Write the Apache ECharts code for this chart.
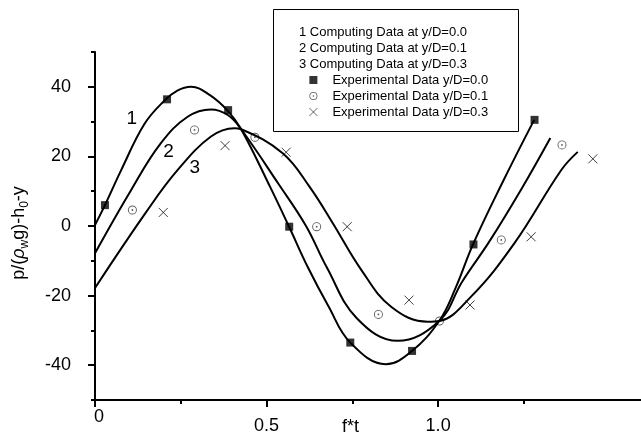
<!DOCTYPE html>
<html><head><meta charset="utf-8">
<script src="https://cdn.jsdelivr.net/npm/echarts@6/dist/echarts.min.js"></script>
<style>html,body{margin:0;padding:0;background:#fff}#c{width:641px;height:438px}</style>
</head><body><div id="c"></div>
<script>
// ---- data ----
const xMajorTicks = [0, 0.5, 1.0];
const xMinorTicks = [0.25, 0.75, 1.25];
const yMajorTicks = [-40, -20, 0, 20, 40];
const yMinorTicks = [-50, -30, -10, 10, 30, 50];

const lineNames = ['1 Computing Data at y/D=0.0', '2 Computing Data at y/D=0.1', '3 Computing Data at y/D=0.3'];
const expNames = ['Experimental Data y/D=0.0', 'Experimental Data y/D=0.1', 'Experimental Data y/D=0.3'];

const curve1X = [0, 0.029, 0.076, 0.144, 0.202, 0.24, 0.28, 0.335, 0.387, 0.426, 0.51, 0.566, 0.62, 0.68, 0.744, 0.848, 0.924, 1.003, 1.05, 1.102, 1.19, 1.28];
const curve1Y = [0.3, 6, 16, 29.3, 36, 38.9, 40, 37.6, 33.1, 27.8, 11.3, -0.3, -11.8, -23, -33.5, -39.7, -35.9, -27.3, -18, -5.2, 13, 30.5];
const curve2X = [0, 0.105, 0.192, 0.27, 0.338, 0.387, 0.426, 0.534, 0.615, 0.675, 0.763, 0.882, 1.003, 1.07, 1.149, 1.242, 1.327];
const curve2Y = [-7.8, 10.3, 23.8, 31.4, 33.5, 31.9, 27.8, 12.2, 0, -11.8, -26.5, -33, -27.3, -16, -4.5, 10.5, 25.3];
const curve3X = [0, 0.149, 0.241, 0.338, 0.406, 0.426, 0.547, 0.625, 0.693, 0.776, 0.863, 0.97, 1.003, 1.096, 1.222, 1.359, 1.407];
const curve3Y = [-17.8, 4, 16.1, 25.7, 28.1, 27.8, 20.9, 11.3, 0.8, -12.6, -23.2, -27.5, -27.3, -20.3, -5, 16.1, 21.3];

const sqX = [0.029, 0.21, 0.388, 0.566, 0.744, 0.924, 1.103, 1.281];
const sqY = [6.0, 36.4, 33.3, -0.2, -33.5, -35.9, -5.3, 30.5];
const circX = [0.109, 0.29, 0.466, 0.646, 0.826, 1.004, 1.184, 1.361];
const circY = [4.6, 27.6, 25.5, -0.2, -25.4, -27.3, -4.0, 23.3];
const crossX = [0.199, 0.379, 0.557, 0.735, 0.915, 1.093, 1.271, 1.451];
const crossY = [3.9, 23.1, 21.2, -0.2, -21.3, -22.7, -3.1, 19.3];

const curveTags = ['1', '2', '3'];
const tagX = [0.107, 0.214, 0.291];
const tagY = [30.9, 21.4, 16.6];

// ---- build ----
const FONT = '"Liberation Sans", Arial, sans-serif';
const zip = (xs, ys) => xs.map((x, i) => [x, ys[i]]);
const curves = [zip(curve1X, curve1Y), zip(curve2X, curve2Y), zip(curve3X, curve3Y)];

const ringPath = 'path://M0,-10A10,10,0,1,1,0,10A10,10,0,1,1,0,-10ZM0,-8A8,8,0,1,0,0,8A8,8,0,1,0,0,-8ZM0,-2A2,2,0,1,1,0,2A2,2,0,1,1,0,-2Z';
const crossPath = 'path://M0,0L10,10M10,0L0,10';

const lineSeries = curves.map((d, i) => ({
  name: lineNames[i], type: 'line', data: d, smooth: 0.4, showSymbol: false, silent: true,
  lineStyle: { color: '#000', width: 2 }, itemStyle: { color: '#000' },
  markPoint: {
    silent: true, symbol: 'circle', symbolSize: 0,
    label: { show: true, position: 'inside', formatter: curveTags[i], color: '#000', fontSize: 19, fontFamily: FONT },
    data: [{ coord: [tagX[i], tagY[i]] }]
  }
}));

const scatterSeries = [
  { name: expNames[0], type: 'scatter', data: zip(sqX, sqY), symbol: 'rect', symbolSize: 8,
    itemStyle: { color: '#000' } },
  { name: expNames[1], type: 'scatter', data: zip(circX, circY), symbol: ringPath, symbolSize: 9,
    itemStyle: { color: '#333' } },
  { name: expNames[2], type: 'scatter', data: zip(crossX, crossY), symbol: crossPath, symbolSize: 9,
    itemStyle: { color: 'transparent', borderColor: '#111', borderWidth: 1 } }
].map(s => Object.assign(s, { silent: true }));

const axisTxt = { color: '#000', fontFamily: FONT, fontSize: 18 };

const option = {
  backgroundColor: '#fff',
  animation: false,
  grid: { left: 95, right: -3, top: 52, bottom: 38, containLabel: false, outerBoundsMode: 'none' },
  legend: [
    { orient: 'vertical', left: 294, top: 24, itemWidth: 0, itemHeight: 8, itemGap: 0, padding: 0,
      selectedMode: false, data: lineNames.map(n => ({ name: n, icon: 'none' })),
      textStyle: { color: '#000', fontFamily: FONT, fontSize: 13, lineHeight: 16 } },
    { orient: 'vertical', left: 309, top: 72, itemWidth: 8, itemHeight: 8, itemGap: 0, padding: 0,
      selectedMode: false,
      data: [expNames[0], expNames[1], { name: expNames[2], itemStyle: { borderWidth: 0.8 } }],
      textStyle: { color: '#000', fontFamily: FONT, fontSize: 13, lineHeight: 16, padding: [0, 0, 0, 10] } }
  ],
  graphic: [{ type: 'rect', shape: { x: 273.5, y: 9.5, width: 245, height: 122 },
    style: { fill: 'none', stroke: '#000', lineWidth: 1 }, silent: true }],
  xAxis: [
    { type: 'value', min: 0, max: 1.6, position: 'bottom',
      name: 'f*t', nameLocation: 'middle', nameGap: 18, nameMoveOverlap: false,
      nameTextStyle: Object.assign({}, axisTxt, { padding: [0, 38, 0, 0], verticalAlign: 'top' }),
      axisLine: { onZero: false, lineStyle: { color: '#000', width: 2 } },
      axisTick: { customValues: xMajorTicks, length: 7, lineStyle: { color: '#000', width: 2 } },
      axisLabel: { customValues: xMajorTicks, margin: 8,
        formatter: v => v === 0 ? '{z|0}' : '{n|' + v.toFixed(1) + '}',
        rich: { z: Object.assign({}, axisTxt, { padding: [0, 0, 0, 8] }),
                n: Object.assign({}, axisTxt, { padding: [9, 0, 0, 0] }) } },
      splitLine: { show: false } },
    { type: 'value', min: 0, max: 1.6, position: 'bottom',
      axisLine: { show: false, onZero: false },
      axisTick: { customValues: xMinorTicks, length: 4, lineStyle: { color: '#000', width: 2 } },
      axisLabel: { show: false }, splitLine: { show: false } }
  ],
  yAxis: [
    { type: 'value', min: -50, max: 50, position: 'left',
      name: '{t|p/(}{g|ρ}{s|w}{t|g)-h}{s|0}{t|-y}', nameLocation: 'middle', nameGap: 64, nameRotate: 90,
      nameMoveOverlap: false,
      nameTextStyle: { padding: [0, 14, 0, 0], rich: {
        t: { color: '#000', fontFamily: FONT, fontSize: 18, lineHeight: 24 },
        g: { color: '#000', fontFamily: FONT, fontSize: 18, fontStyle: 'italic', lineHeight: 24 },
        s: { color: '#000', fontFamily: FONT, fontSize: 12, lineHeight: 12, verticalAlign: 'bottom' } } },
      axisLine: { onZero: false, lineStyle: { color: '#000', width: 2 } },
      axisTick: { customValues: yMajorTicks, length: 7, lineStyle: { color: '#000', width: 2 } },
      axisLabel: Object.assign({ customValues: yMajorTicks, margin: 24 }, axisTxt),
      splitLine: { show: false } },
    { type: 'value', min: -50, max: 50, position: 'left',
      axisLine: { show: false, onZero: false },
      axisTick: { customValues: yMinorTicks, length: 4, lineStyle: { color: '#000', width: 2 } },
      axisLabel: { show: false }, splitLine: { show: false } }
  ],
  series: lineSeries.concat(scatterSeries)
};

const chart = echarts.init(document.getElementById('c'), null, { renderer: 'canvas' });
chart.setOption(option);
</script></body></html>
